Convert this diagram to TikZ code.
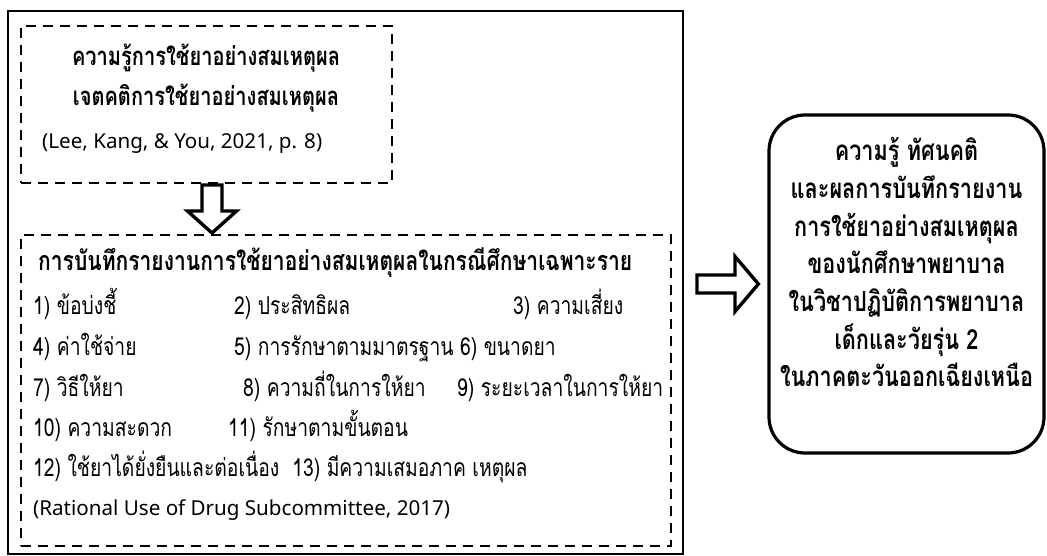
\documentclass[tikz,border=0pt]{standalone}
\usepackage{fontspec}
\setmainfont{Noto Sans}
\newfontfamily\thaifont[Script=Thai, FakeStretch=0.78]{Loma}
\usetikzlibrary{calc}
\newlength\wA
\newcommand\calib[4]{% #1 macro name, #2 font, #3 target width, #4 text
  \settowidth{\wA}{#2\fontsize{20pt}{24pt}\selectfont #4}%
  \pgfmathsetmacro#1{20*#3/\wA}\xdef#1{#1}}
\AtBeginDocument{%
\calib\fsH{\thaifont\bfseries}{594}{การบันทึกรายงานการใช้ยาอย่างสมเหตุผลในกรณีศึกษาเฉพาะราย}%
\calib\fsK{\thaifont\bfseries}{268}{ความรู้การใช้ยาอย่างสมเหตุผล}%
\calib\fsR{\thaifont\bfseries}{253}{ในภาคตะวันออกเฉียงเหนือ}%
\calib\fsI{\thaifont}{206}{9) ระยะเวลาในการให้ยา}%
\calib\fsL{\rmfamily}{280}{(Lee, Kang, \& You, 2021, p. 8)}}
\newcommand\THH{\thaifont\bfseries\fontsize{\fsH pt}{\fsH pt}\selectfont}
\newcommand\THK{\thaifont\bfseries\fontsize{\fsK pt}{\fsK pt}\selectfont}
\newcommand\THRB{\thaifont\bfseries\fontsize{\fsR pt}{\fsR pt}\selectfont}
\newcommand\THI{\thaifont\fontsize{\fsI pt}{\fsI pt}\selectfont}
\newcommand\LAT{\fontsize{\fsL pt}{\fsL pt}\selectfont}
\begin{document}
\begin{tikzpicture}[x=1pt,y=-1pt,
  outerbox/.style={draw, line width=2pt, inner sep=0pt},
  dashbox/.style={draw, line width=2pt, dash pattern=on 10pt off 7pt, inner sep=0pt},
  resbox/.style={draw, line width=3.2pt, rounded corners=36pt, inner sep=0pt},
  blk/.style={draw, fill=white, line width=3.4pt, line join=miter},
  item/.style={inner sep=0pt, font=\THI, anchor=mid west},
  head/.style={inner sep=0pt, font=\THH, anchor=mid west},
  kbold/.style={inner sep=0pt, font=\THK, anchor=mid},
  rbold/.style={inner sep=0pt, font=\THRB, anchor=mid},
  lat/.style={inner sep=0pt, font=\LAT, anchor=mid west}]
\useasboundingbox (0,0) rectangle (1047,556);
% frames
\node[outerbox, minimum width=675pt, minimum height=543pt] (outer) at (345.5,282.5) {};
\node[dashbox, minimum width=371pt, minimum height=157pt] (box1) at (206.5,104.5) {};
\node[dashbox, minimum width=650pt, minimum height=311pt] (box2) at (346,390.5) {};
\node[resbox, minimum width=275pt, minimum height=338pt] (result) at (906.5,284) {};
% box 1 text
\node[kbold] (k1) at (206,63) {ความรู้การใช้ยาอย่างสมเหตุผล};
\node[kbold] (k2) at (206,103) {เจตคติการใช้ยาอย่างสมเหตุผล};
\node[lat] (c1) at (42,146) {(Lee, Kang, \& You, 2021, p. 8)};
% box 2 text
\node[head] (h2) at (38,268) {การบันทึกรายงานการใช้ยาอย่างสมเหตุผลในกรณีศึกษาเฉพาะราย};
\node[item] (i1) at (33,312) {1) ข้อบ่งชี้};
\node[item] (i2) at (234,312) {2) ประสิทธิผล};
\node[item] (i3) at (513,312) {3) ความเสี่ยง};
\node[item] (i4) at (33,353) {4) ค่าใช้จ่าย};
\node[item] (i5) at (234,353) {5) การรักษาตามมาตรฐาน 6) ขนาดยา};
\node[item] (i7) at (33,394) {7) วิธีให้ยา};
\node[item] (i8) at (243,394) {8) ความถี่ในการให้ยา};
\node[item] (i9) at (457,394) {9) ระยะเวลาในการให้ยา};
\node[item] (i10) at (33,434) {10) ความสะดวก};
\node[item] (i11) at (228,434) {11) รักษาตามขั้นตอน};
\node[item] (i12) at (33,474) {12) ใช้ยาได้ยั่งยืนและต่อเนื่อง~~13) มีความเสมอภาค เหตุผล};
\node[lat] (c2) at (33,513) {(Rational Use of Drug Subcommittee, 2017)};
% result text
\node[rbold] (r1) at (906.5,158) {ความรู้ ทัศนคติ};
\node[rbold] (r2) at (906.5,196) {และผลการบันทึกรายงาน};
\node[rbold] (r3) at (906.5,233.5) {การใช้ยาอย่างสมเหตุผล};
\node[rbold] (r4) at (906.5,271) {ของนักศึกษาพยาบาล};
\node[rbold] (r5) at (906.5,309) {ในวิชาปฏิบัติการพยาบาล};
\node[rbold] (r6) at (906.5,346.5) {เด็กและวัยรุ่น 2};
\node[rbold] (r7) at (906.5,384) {ในภาคตะวันออกเฉียงเหนือ};
% block arrows
\coordinate (d0) at ($(box1.south)+(5.5,0)$);
\coordinate (d1) at (d0 |- box2.north);
\draw[blk] ($(d0)+(-10,1)$) -- ($(d0)+(10,1)$) -- ($(d0)+(10,27)$) -- ($(d0)+(24.5,27)$)
  -- ($(d1)+(0,-1)$) -- ($(d0)+(-24.5,27)$) -- ($(d0)+(-10,27)$) -- cycle;
\coordinate (a0) at (outer.east |- result.west);
\coordinate (a1) at (result.west);
\draw[blk] ($(a0)+(13,-9)$) -- ($(a0)+(51,-9)$) -- ($(a0)+(51,-27.5)$)
  -- ($(a1)+(-9,0)$) -- ($(a0)+(51,27.5)$) -- ($(a0)+(51,9)$) -- ($(a0)+(13,9)$) -- cycle;
\end{tikzpicture}
\end{document}
